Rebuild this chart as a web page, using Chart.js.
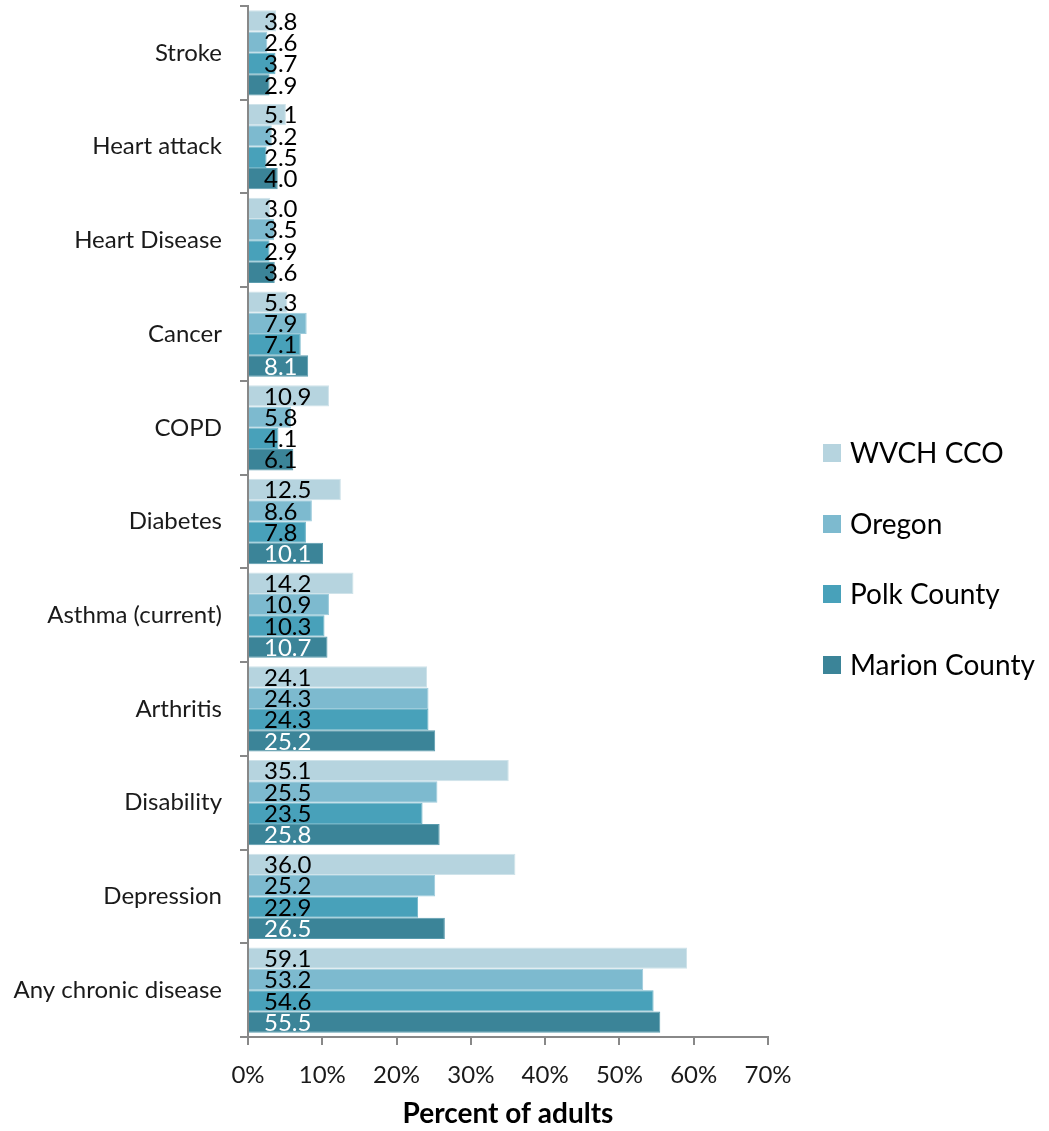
<!DOCTYPE html>
<html>
<head>
<meta charset="utf-8">
<script src="https://cdn.jsdelivr.net/npm/chart.js@4.4.1/dist/chart.umd.min.js"></script>
<style>
  html, body { margin: 0; padding: 0; background: #fff; }
  #wrap { width: 1049px; height: 1131px; position: relative; }
</style>
</head>
<body>
<div id="wrap"><canvas id="myChart"></canvas></div>
<script>
// chart values
var categories = ['Stroke', 'Heart attack', 'Heart Disease', 'Cancer', 'COPD', 'Diabetes',
    'Asthma (current)', 'Arthritis', 'Disability', 'Depression', 'Any chronic disease'];
var seriesNames = ['WVCH CCO', 'Oregon', 'Polk County', 'Marion County'];
var wvch   = [3.8, 5.1, 3.0, 5.3, 10.9, 12.5, 14.2, 24.1, 35.1, 36.0, 59.1];
var oregon = [2.6, 3.2, 3.5, 7.9, 5.8, 8.6, 10.9, 24.3, 25.5, 25.2, 53.2];
var polk   = [3.7, 2.5, 2.9, 7.1, 4.1, 7.8, 10.3, 24.3, 23.5, 22.9, 54.6];
var marion = [2.9, 4.0, 3.6, 8.1, 6.1, 10.1, 10.7, 25.2, 25.8, 26.5, 55.5];
var xTicks = [0, 10, 20, 30, 40, 50, 60, 70];

var colors  = ['#b6d4df', '#7dbacf', '#48a1ba', '#3b8498'];
var borders = ['#cfe3ea', '#9ccbdb', '#6fb5c8', '#5b9cae'];
var FONT = "Lato, 'Open Sans', sans-serif";

var valueLabels = {
    id: 'valueLabels',
    afterDatasetsDraw: function(chart) {
        var ctx = chart.ctx;
        ctx.save();
        ctx.font = '24px ' + FONT;
        ctx.textAlign = 'left';
        ctx.textBaseline = 'middle';
        chart.data.datasets.forEach(function(ds, i) {
            var meta = chart.getDatasetMeta(i);
            meta.data.forEach(function(bar, j) {
                var v = ds.data[j];
                ctx.fillStyle = (i === 3 && v >= 8) ? '#ffffff' : '#000000';
                ctx.fillText(v.toFixed(1), chart.chartArea.left + 16, bar.y + 1);
            });
        });
        ctx.restore();
    }
};

var sideLegend = {
    id: 'sideLegend',
    afterDraw: function(chart) {
        var ctx = chart.ctx;
        var ys = [453, 524, 594, 665];
        ctx.save();
        ctx.font = '28px ' + FONT;
        ctx.textAlign = 'left';
        ctx.textBaseline = 'middle';
        chart.data.datasets.forEach(function(ds, i) {
            ctx.fillStyle = ds.backgroundColor;
            ctx.fillRect(823, ys[i] - 9, 18, 18);
            ctx.fillStyle = '#000000';
            ctx.fillText(ds.label, 850, ys[i] + 1);
        });
        ctx.restore();
    }
};

var ctx = document.getElementById('myChart');
var allSeries = [wvch, oregon, polk, marion];
var myChart = new Chart(ctx, {
    type: 'bar',
    data: {
        labels: categories,
        datasets: allSeries.map(function(d, i) {
            return {
                label: seriesNames[i],
                data: d,
                backgroundColor: colors[i],
                borderColor: borders[i],
                borderWidth: 1,
                categoryPercentage: 0.91,
                barPercentage: 1.0
            };
        })
    },
    options: {
        indexAxis: 'y',
        responsive: true,
        maintainAspectRatio: false,
        animation: false,
        layout: { padding: { top: 6, right: 281, bottom: 0, left: 0 } },
        plugins: {
            legend: { display: false },
            tooltip: { enabled: false }
        },
        scales: {
            x: {
                min: 0,
                max: 70,
                afterBuildTicks: function(s) {
                    s.ticks = xTicks.map(function(v) { return { value: v }; });
                },
                afterFit: function(s) {
                    s.height = 94;
                    s.paddingTop = 0; s.paddingBottom = 0;
                },
                border: { display: true, color: '#888888', width: 2 },
                grid: { drawOnChartArea: false, drawTicks: true, tickLength: 8, color: '#888888', lineWidth: 2 },
                ticks: {
                    padding: 16,
                    color: '#1a1a1a',
                    font: { family: FONT, size: 24 },
                    callback: function(v) { return v + '%'; }
                },
                title: {
                    display: true,
                    text: 'Percent of adults',
                    color: '#000000',
                    font: { family: FONT, size: 28, weight: 'bold' },
                    padding: { top: 4, bottom: 0 }
                }
            },
            y: {
                afterFit: function(s) {
                    s.width = 248;
                    s.paddingTop = 0; s.paddingBottom = 0;
                    s.paddingLeft = 0; s.paddingRight = 0;
                },
                border: { display: true, color: '#888888', width: 2 },
                grid: { drawOnChartArea: false, drawTicks: true, tickLength: 8, color: '#888888', lineWidth: 2, offset: true },
                ticks: {
                    padding: 18,
                    color: '#1a1a1a',
                    font: { family: FONT, size: 24 }
                }
            }
        }
    },
    plugins: [valueLabels, sideLegend]
});
</script>
</body>
</html>
